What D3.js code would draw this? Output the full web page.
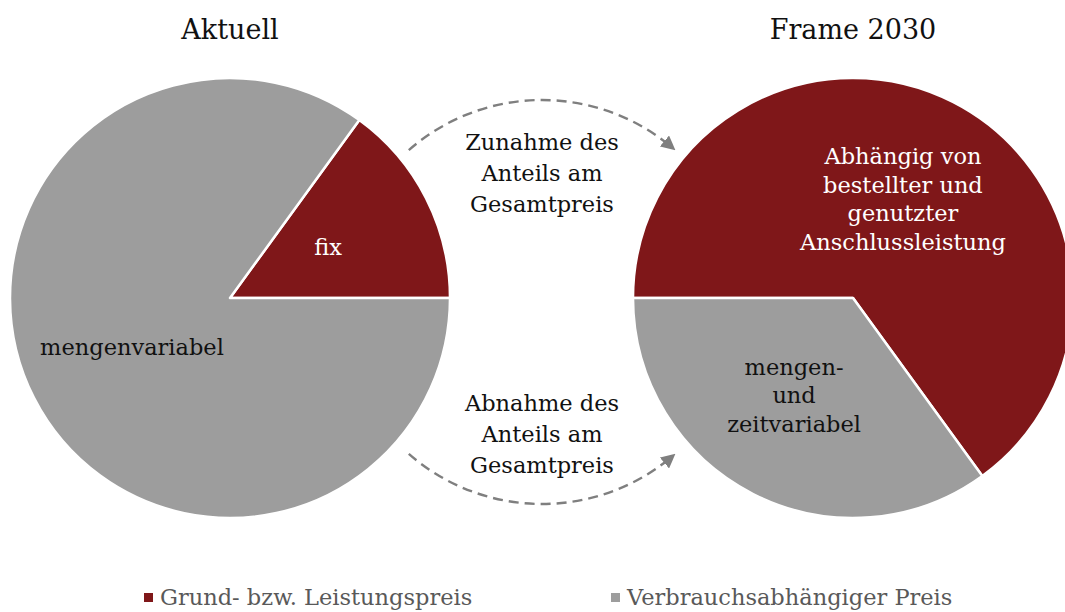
<!DOCTYPE html>
<html lang="de">
<head>
<meta charset="utf-8">
<title>Aktuell / Frame 2030</title>
<style>
  body { margin: 0; background: #fff; }
  svg { display: block; font-family: 'DejaVu Serif', 'Liberation Serif', serif; }
</style>
<script src="https://d3js.org/d3.v7.min.js"></script>
</head>
<body>
<svg id="chart" width="1065" height="612"></svg>
<script>
// data
var categories = ["Grund- bzw. Leistungspreis", "Verbrauchsabhängiger Preis"];
var pieTitles = ["Aktuell", "Frame 2030"];
var aktuellValues = [15, 85];      // fix, mengenvariabel
var frameValues = [65, 35];        // Anschlussleistung, mengen-/zeitvariabel
var aktuellLabels = [["fix"], ["mengenvariabel"]];
var frameLabels = [["Abhängig von", "bestellter und", "genutzter", "Anschlussleistung"],
                   ["mengen-", "und", "zeitvariabel"]];
var arrowLabels = [["Zunahme des", "Anteils am", "Gesamtpreis"],
                   ["Abnahme des", "Anteils am", "Gesamtpreis"]];

var red = "#7f1719", grey = "#9d9d9d";
var colour = d3.scaleOrdinal().domain(categories).range([red, grey]);

var svg = d3.select("#chart");
var R = 220, cy = 298;
var centres = [230, 853];

var arc = d3.arc().innerRadius(0).outerRadius(R);
var labelArc = d3.arc().innerRadius(110).outerRadius(110);

function drawPie(cx, values, labels, startAngle, title, labelCol, shift) {
  var pie = d3.pie().sort(null).value(function(d){ return d; })
    .startAngle(startAngle).endAngle(startAngle + 2 * Math.PI);
  var arcs = pie(values);
  var g = svg.append("g").attr("transform", "translate(" + cx + "," + cy + ")");
  g.selectAll("path").data(arcs).enter().append("path")
    .attr("d", arc)
    .attr("fill", function(d, i){ return colour(categories[i]); })
    .attr("stroke", "#fff").attr("stroke-width", 2.5).attr("stroke-linejoin", "round");
  g.selectAll("text.lbl").data(arcs).enter().append("text")
    .attr("class", "lbl")
    .attr("text-anchor", "middle")
    .attr("font-size", 22.5)
    .attr("fill", function(d, i){ return labelCol[i]; })
    .each(function(d, i) {
      var c = labelArc.centroid(d);
      var lines = labels[i];
      var lh = 28.5;
      var t = d3.select(this);
      lines.forEach(function(s, k) {
        t.append("tspan").attr("x", c[0] + shift[i])
          .attr("y", c[1] + (k - (lines.length - 1) / 2) * lh + 7)
          .text(s);
      });
    });
  svg.append("text").attr("x", cx).attr("y", 39)
    .attr("text-anchor", "middle").attr("font-size", 27).attr("fill", "#111")
    .text(title);
}

var totalA = d3.sum(aktuellValues);
drawPie(centres[0], aktuellValues, aktuellLabels,
        Math.PI / 2 - aktuellValues[0] / totalA * 2 * Math.PI, pieTitles[0], ["#fff", "#111"], [0, 0]);
drawPie(centres[1], frameValues, frameLabels, -Math.PI / 2, pieTitles[1], ["#fff", "#111"], [0, -9]);

// dashed arrows between the pies
var defs = svg.append("defs");
defs.append("marker").attr("id", "head")
  .attr("viewBox", "0 0 10 10").attr("refX", 7).attr("refY", 5)
  .attr("markerWidth", 6).attr("markerHeight", 6).attr("orient", "auto")
  .attr("markerUnits", "strokeWidth")
  .append("path").attr("d", "M0,0 L10,5 L0,10 z").attr("fill", "#7f7f7f");

var ax = 542, ay = 302, ar = 202;
var arrows = [
  {a0: -0.72, a1: 0.70, ccw: false},
  {a0: Math.PI + 0.72, a1: Math.PI - 0.70, ccw: true}
];
arrows.forEach(function(d) {
  var p = d3.path();
  // d3.path uses angles from +x axis; convert from top-clockwise
  var s = d.a0 - Math.PI / 2, e = d.a1 - Math.PI / 2;
  p.moveTo(ax + ar * Math.cos(s), ay + ar * Math.sin(s));
  p.arc(ax, ay, ar, s, e, d.ccw);
  svg.append("path").attr("d", p.toString())
    .attr("fill", "none").attr("stroke", "#7f7f7f")
    .attr("stroke-width", 2.4).attr("stroke-dasharray", "10,6")
    .attr("marker-end", "url(#head)");
});

var mid = svg.append("g").attr("text-anchor", "middle").attr("font-size", 22.5).attr("fill", "#111");
arrowLabels.forEach(function(lines, j) {
  var yc = j === 0 ? 174 : 435;
  var t = mid.append("text");
  lines.forEach(function(s, k) {
    t.append("tspan").attr("x", ax).attr("y", yc + (k - 1) * 31 + 7).text(s);
  });
});

// legend
var legendX = [144, 611];
var lg = svg.selectAll("g.legend").data(categories).enter().append("g")
  .attr("class", "legend")
  .attr("transform", function(d, i){ return "translate(" + legendX[i] + ",598)"; });
lg.append("rect").attr("x", 0).attr("y", -5).attr("width", 9).attr("height", 9)
  .attr("fill", function(d){ return colour(d); });
lg.append("text").attr("x", 16).attr("y", 7).attr("font-size", 22.5).attr("fill", "#595959")
  .text(function(d){ return d; });
</script>
</body>
</html>
